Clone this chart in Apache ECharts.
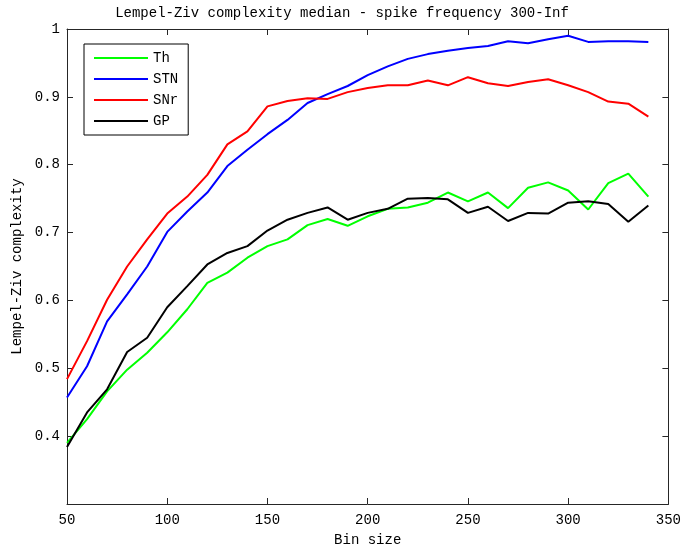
<!DOCTYPE html>
<html>
<head>
<meta charset="utf-8">
<script src="https://cdn.jsdelivr.net/npm/echarts@6/dist/echarts.min.js"></script>
<style>html,body{margin:0;padding:0;background:#fff}#c{width:684px;height:554px}</style>
</head>
<body>
<div id="c"></div>
<script>
var binSizes = [50,60,70,80,90,100,110,120,130,140,150,160,170,180,190,200,210,220,230,240,250,260,270,280,290,300,310,320,330,340];
var thValues  = [0.390,0.425,0.466,0.498,0.523,0.553,0.587,0.626,0.641,0.663,0.680,0.690,0.711,0.720,0.710,0.724,0.735,0.737,0.744,0.759,0.746,0.759,0.736,0.766,0.774,0.762,0.734,0.773,0.787,0.753];
var stnValues = [0.457,0.503,0.569,0.609,0.650,0.701,0.731,0.759,0.798,0.822,0.845,0.866,0.891,0.904,0.916,0.932,0.945,0.956,0.963,0.968,0.972,0.975,0.982,0.979,0.985,0.990,0.981,0.982,0.982,0.981];
var snrValues = [0.484,0.540,0.601,0.650,0.690,0.728,0.753,0.785,0.830,0.849,0.886,0.894,0.898,0.897,0.907,0.913,0.917,0.917,0.924,0.917,0.929,0.920,0.916,0.922,0.926,0.917,0.907,0.893,0.890,0.871];
var gpValues  = [0.384,0.435,0.469,0.524,0.545,0.590,0.621,0.653,0.670,0.680,0.703,0.719,0.729,0.737,0.719,0.729,0.735,0.750,0.751,0.749,0.729,0.738,0.717,0.729,0.728,0.744,0.746,0.742,0.716,0.740];
var seriesNames = ['Th','STN','SNr','GP'];
var seriesColors = ['#00ff00','#0000ff','#ff0000','#000000'];
var xTicks = {min:50, max:350, interval:50};
var yTicks = {min:0.3, max:1, interval:0.1};

var FONT = 'Liberation Mono';
function pairs(v){ return binSizes.map(function(x,i){ return [x, v[i]]; }); }
var allValues = [thValues, stnValues, snrValues, gpValues];

var axisLineStyle = {lineStyle:{color:'#262626', width:1}};
var tickStyle = {inside:true, length:6, lineStyle:{color:'#262626', width:1}};
var labelStyle = {fontFamily:FONT, fontSize:14, color:'#000'};

var chart = echarts.init(document.getElementById('c'), null, {renderer:'canvas'});
chart.setOption({
  backgroundColor:'#fff',
  animation:false,
  title:{text:'Lempel-Ziv complexity median - spike frequency 300-Inf', left:'center', top:1,
    textStyle:{fontFamily:FONT, fontSize:14, fontWeight:'normal', color:'#000'}},
  grid:{left:67, right:15, top:29, bottom:50, show:false},
  legend:{orient:'vertical', left:84, top:44, data:seriesNames,
    borderColor:'#000', borderWidth:1, backgroundColor:'#fff',
    padding:[7,10,7,9], itemWidth:54, itemHeight:14, itemGap:7,
    itemStyle:{opacity:0},
    textStyle:{fontFamily:FONT, fontSize:14, color:'#000'}},
  xAxis:[
    {type:'value', min:xTicks.min, max:xTicks.max, interval:xTicks.interval, position:'bottom',
     name:'Bin size', nameLocation:'middle', nameGap:29, nameTextStyle:{fontFamily:FONT, fontSize:14, color:'#000'},
     axisLine:axisLineStyle, axisTick:tickStyle, axisLabel:Object.assign({margin:9}, labelStyle), splitLine:{show:false}},
    {type:'value', min:xTicks.min, max:xTicks.max, interval:xTicks.interval, position:'top',
     axisLine:axisLineStyle, axisTick:tickStyle, axisLabel:{show:false}, splitLine:{show:false}}
  ],
  yAxis:[
    {type:'value', min:yTicks.min, max:yTicks.max, interval:yTicks.interval, position:'left',
     name:'Lempel-Ziv complexity', nameLocation:'middle', nameGap:42, nameTextStyle:{fontFamily:FONT, fontSize:14, color:'#000'},
     axisLine:axisLineStyle, axisTick:tickStyle,
     axisLabel:Object.assign({margin:7, formatter:function(v){ return v < 0.35 ? '' : String(+v.toFixed(1)); }}, labelStyle),
     splitLine:{show:false}},
    {type:'value', min:yTicks.min, max:yTicks.max, interval:yTicks.interval, position:'right',
     axisLine:axisLineStyle, axisTick:tickStyle, axisLabel:{show:false}, splitLine:{show:false}}
  ],
  series: seriesNames.map(function(n,i){
    return {name:n, type:'line', xAxisIndex:0, yAxisIndex:0, data:pairs(allValues[i]),
      showSymbol:false, symbol:'none', color:seriesColors[i],
      lineStyle:{color:seriesColors[i], width:2}, z:2+i};
  })
});
</script>
</body>
</html>
